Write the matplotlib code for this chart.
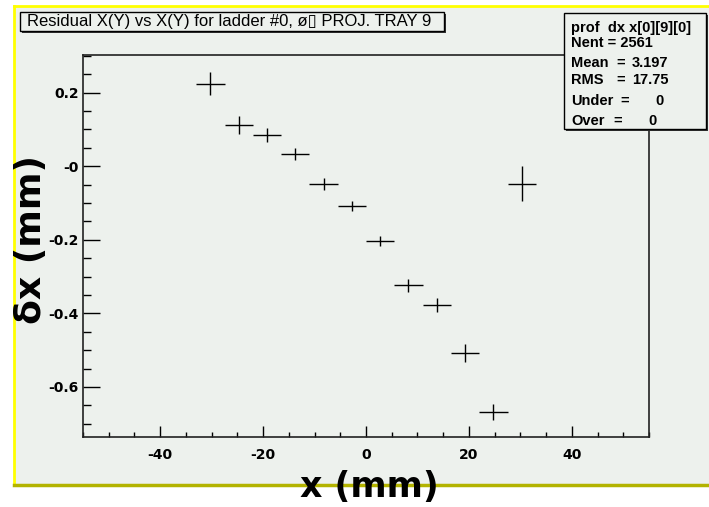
import matplotlib
matplotlib.use("Agg")
import matplotlib.pyplot as plt
from matplotlib.patches import Rectangle
from matplotlib.ticker import MultipleLocator

# profile bins (bin centres, mean residual, error on mean)
x_centers = [-30.25, -24.75, -19.25, -13.75, -8.25, -2.75, 2.75, 8.25, 13.75, 19.25, 24.75, 30.25]
dx_mean = [0.224, 0.111, 0.084, 0.034, -0.048, -0.109, -0.203, -0.324, -0.376, -0.508, -0.668, -0.048]
dx_err = [0.031, 0.025, 0.019, 0.016, 0.016, 0.013, 0.014, 0.018, 0.019, 0.024, 0.022, 0.048]
bin_half = 2.75

x_ticks = [-40, -20, 0, 20, 40]
x_tick_labels = ["-40", "-20", "0", "20", "40"]
y_ticks = [0.2, 0.0, -0.2, -0.4, -0.6]
y_tick_labels = ["0.2", "-0", "-0.2", "-0.4", "-0.6"]

title = "Residual X(Y) vs X(Y) for ladder #0, \u00f8\u25af PROJ. TRAY 9"
stat_title = "prof  dx x[0][9][0]"
stat_names = ["Nent", "Mean", "RMS", "Under", "Over"]
stat_values = ["2561", "3.197", "17.75", "0", "0"]

W, H = 709, 507
bg = "#edf1ed"
fam = ["Liberation Sans", "DejaVu Sans"]


def fx(x):
    return x / W


def fy(y):
    return 1 - y / H


fig = plt.figure(figsize=(W / 100, H / 100), dpi=100)
fig.patch.set_facecolor("white")

# grey pad with yellow frame lines
fig.patches.append(Rectangle((fx(14), fy(485)), 1 - fx(14), fy(6) - fy(485),
                             transform=fig.transFigure, fc=bg, ec="none", zorder=-5))
fig.add_artist(plt.Line2D([fx(14), 1], [fy(6), fy(6)], color="#ffff00", lw=2, zorder=-4))
fig.add_artist(plt.Line2D([fx(14), fx(14)], [fy(6), fy(485)], color="#ffff00", lw=2, zorder=-4))
fig.add_artist(plt.Line2D([fx(14), 1], [fy(485), fy(485)], color="#b3b300", lw=2.5, zorder=-4))

ax = fig.add_axes([fx(83), fy(437), fx(649) - fx(83), fy(55) - fy(437)])
ax.set_facecolor(bg)
ax.errorbar(x_centers, dx_mean, xerr=bin_half, yerr=dx_err, fmt="none",
            ecolor="black", elinewidth=1.0, capsize=0)
ax.set_xlim(-55, 55)
ax.set_ylim(-0.736, 0.302)

ax.set_xticks(x_ticks)
ax.set_xticklabels(x_tick_labels)
ax.set_yticks(y_ticks)
ax.set_yticklabels(y_tick_labels)
ax.xaxis.set_minor_locator(MultipleLocator(5))
ax.yaxis.set_minor_locator(MultipleLocator(0.05))
ax.tick_params(axis="x", which="major", direction="in", length=8, width=1, pad=8)
ax.tick_params(axis="x", which="minor", direction="in", length=3.6, width=1)
ax.tick_params(axis="y", which="major", direction="in", length=12, width=1, pad=3)
ax.tick_params(axis="y", which="minor", direction="in", length=6, width=1)
for lab in ax.get_xticklabels() + ax.get_yticklabels():
    lab.set_fontfamily("DejaVu Sans")
    lab.set_fontweight("bold")
    lab.set_fontsize(10)
for s in ax.spines.values():
    s.set_linewidth(1.2)
    s.set_color("#222222")

# axis titles
fig.text(fx(369), fy(497), "x (mm)", ha="center", va="baseline",
         fontsize=25, fontweight="bold", family="DejaVu Sans")
fig.text(fx(31), fy(240), "\u03b4x (mm)", ha="center", va="center", rotation=90,
         fontsize=26, fontweight="bold", family="DejaVu Sans")

# title box with shadow
fig.patches.append(Rectangle((fx(22), fy(33)), fx(444) - fx(20), fy(12) - fy(31),
                             transform=fig.transFigure, fc="#333333", ec="none", zorder=3))
fig.patches.append(Rectangle((fx(20), fy(31)), fx(444) - fx(20), fy(12) - fy(31),
                             transform=fig.transFigure, fc=bg, ec="black", lw=1, zorder=4))
fig.text(fx(27), fy(21.5), title, ha="left", va="center", fontsize=12,
         family=fam, zorder=5)

# stats box with shadow
fig.patches.append(Rectangle((fx(566), fy(131)), fx(706) - fx(564), fy(13) - fy(129),
                             transform=fig.transFigure, fc="#333333", ec="none", zorder=3))
fig.patches.append(Rectangle((fx(564), fy(129)), fx(706) - fx(564), fy(13) - fy(129),
                             transform=fig.transFigure, fc=bg, ec="black", lw=1, zorder=4))
sfont = dict(fontsize=10.5, family=fam, fontweight="bold", va="center", zorder=5)
fig.text(fx(571), fy(28), stat_title, ha="left", **sfont)
row_y = [43, 63, 80, 101, 121]
eq_x = [None, 616, 616, 620, 613]
val_x = [None, 632, 632, 655, 648]
for name, val, yy, ex, vx in zip(stat_names, stat_values, row_y, eq_x, val_x):
    if ex is None:
        fig.text(fx(571), fy(yy), f"{name} = {val}", ha="left", **sfont)
        continue
    fig.text(fx(571), fy(yy), name, ha="left", **sfont)
    fig.text(fx(ex), fy(yy), "=", ha="left", **sfont)
    fig.text(fx(vx), fy(yy), val, ha="left", **sfont)

fig.savefig("out.png", dpi=100, facecolor=fig.get_facecolor())
